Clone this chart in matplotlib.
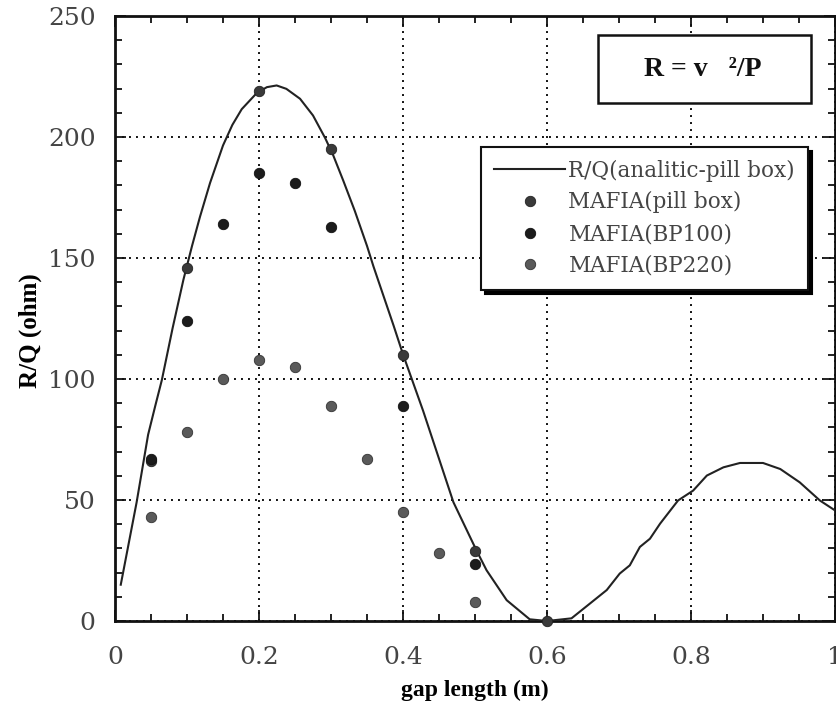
import matplotlib
matplotlib.use("Agg")
import matplotlib.pyplot as plt
from matplotlib.patches import Rectangle
from matplotlib.ticker import MultipleLocator

plt.rcParams['font.family'] = ['Liberation Serif', 'DejaVu Serif']

# Analytic R/Q of a pill-box cavity vs gap length
gap_curve = [0.008, 0.030, 0.046, 0.056, 0.065, 0.080, 0.095, 0.107, 0.118, 0.132,
             0.150, 0.163, 0.176, 0.197, 0.211, 0.2245, 0.238, 0.257, 0.275, 0.292,
             0.303, 0.317, 0.333, 0.350, 0.359, 0.387, 0.400, 0.428, 0.470, 0.502,
             0.516, 0.544, 0.576, 0.600, 0.634, 0.660, 0.683, 0.701, 0.715, 0.729,
             0.743, 0.757, 0.782, 0.803, 0.822, 0.845, 0.868, 0.900, 0.924, 0.951,
             0.979, 1.0]
rq_curve = [15, 49, 77, 89, 99.5, 121, 141, 155, 167, 181,
            196.5, 205, 211.5, 218.2, 220.6, 221.3, 219.9, 215.8, 208.9, 199.5,
            192.5, 182, 169.5, 155, 146.5, 122, 110.2, 86.8, 49.1, 29.2,
            21, 8.6, 0.7, 0, 1.1, 7.3, 12.8, 19.6, 23, 30.6,
            34, 40.2, 49.8, 53.9, 60.1, 63.5, 65.3, 65.3, 62.8, 57.3,
            49.8, 45.7]

# MAFIA simulations
gap_pill = [0.05, 0.1, 0.2, 0.3, 0.4, 0.5, 0.6]
rq_pill = [66, 146, 219, 195, 110, 29, 0]

gap_bp100 = [0.05, 0.1, 0.15, 0.2, 0.25, 0.3, 0.4, 0.5]
rq_bp100 = [67, 124, 164, 185, 181, 163, 89, 23.5]

gap_bp220 = [0.05, 0.1, 0.15, 0.2, 0.25, 0.3, 0.35, 0.4, 0.45, 0.5]
rq_bp220 = [43, 78, 100, 108, 105, 89, 67, 45, 28, 8]

x_ticks = [0, 0.2, 0.4, 0.6, 0.8, 1.0]
x_tick_labels = ['0', '0.2', '0.4', '0.6', '0.8', '1']

fig = plt.figure(figsize=(8.36, 7.17), dpi=100)
ax = fig.add_axes([115 / 836, 96 / 717, 720 / 836, 605 / 717])

ax.plot(gap_curve, rq_curve, color='#222222', lw=1.5,
        label='R/Q(analitic-pill box)', zorder=3)
ax.plot(gap_pill, rq_pill, 'o', color='#3a3a3a', ms=7.5, mec='#222222', mew=0.6,
        label='MAFIA(pill box)', zorder=4, clip_on=False)
ax.plot(gap_bp100, rq_bp100, 'o', color='#1c1c1c', ms=7.5, mec='#111111', mew=0.6,
        label='MAFIA(BP100)', zorder=4)
ax.plot(gap_bp220, rq_bp220, 'o', color='#5a5a5a', ms=7.5, mec='#333333', mew=0.6,
        label='MAFIA(BP220)', zorder=4)

ax.set_xlim(0, 1)
ax.set_ylim(0, 250)
ax.set_xticks(x_ticks)
ax.set_xticklabels(x_tick_labels)
ax.xaxis.set_minor_locator(MultipleLocator(0.05))
ax.yaxis.set_major_locator(MultipleLocator(50))
ax.yaxis.set_minor_locator(MultipleLocator(10))

ax.tick_params(which='both', direction='in', top=True, right=True,
               color='#111111', width=1.3)
ax.tick_params(which='major', length=8)
ax.tick_params(which='minor', length=5)
ax.tick_params(axis='x', pad=18)
ax.tick_params(axis='y', pad=14)
for lab in ax.get_xticklabels() + ax.get_yticklabels():
    lab.set_family(['DejaVu Serif'])
    lab.set_fontsize(18)
    lab.set_color('#444444')

for s in ax.spines.values():
    s.set_linewidth(2)
    s.set_color('#111111')

ax.grid(True, which='major', color='#111111', lw=1.4, linestyle=(0, (1, 2.6)))

ax.set_xlabel('gap length (m)', fontsize=17, fontweight='bold')
ax.set_ylabel('R/Q (ohm)', fontsize=18, fontweight='bold')
ax.xaxis.set_label_coords(0.5, -0.097)
ax.yaxis.set_label_coords(-0.101, 0.48)

leg = ax.legend(loc='upper right', bbox_to_anchor=(0.9625, 0.784),
                prop={'family': ['DejaVu Serif'], 'size': 15.5},
                frameon=True, fancybox=False,
                shadow={'color': 'black', 'alpha': 1.0, 'ox': 3, 'oy': -3},
                edgecolor='#111111', framealpha=1, handlelength=3.3,
                borderpad=0.6, labelspacing=0.45, handletextpad=0.15,
                borderaxespad=0)
leg.get_frame().set_linewidth(1.5)
for t in leg.get_texts():
    t.set_color('#444444')

box = Rectangle((0.671, 0.856), 0.296, 0.112, transform=ax.transAxes,
                facecolor='white', edgecolor='#111111', lw=1.8, zorder=6)
ax.add_patch(box)
ax.text(0.817, 0.912, 'R = v   \u00b2/P', transform=ax.transAxes,
        ha='center', va='center', fontsize=20, fontweight='bold',
        color='#111111', zorder=7)

fig.savefig('out.png', dpi=100)
